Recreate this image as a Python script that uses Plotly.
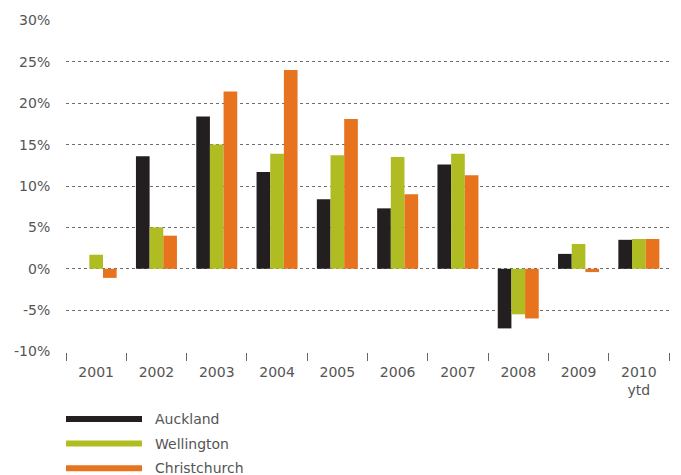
import plotly.graph_objects as go

# Annual house price change by city (%)
years = ["2001", "2002", "2003", "2004", "2005", "2006", "2007", "2008", "2009", "2010<br>ytd"]
auckland = [0.0, 13.6, 18.4, 11.7, 8.4, 7.3, 12.6, -7.2, 1.8, 3.5]
wellington = [1.7, 5.0, 15.0, 13.9, 13.7, 13.5, 13.9, -5.5, 3.0, 3.6]
christchurch = [-1.1, 4.0, 21.4, 24.0, 18.1, 9.0, 11.3, -6.0, -0.4, 3.6]

series_names = ["Auckland", "Wellington", "Christchurch"]
series_values = [auckland, wellington, christchurch]
series_colors = ["#231f20", "#afbd22", "#e8731e"]

y_ticks = [-10, -5, 0, 5, 10, 15, 20, 25, 30]
y_tick_labels = [f"{v}%" for v in y_ticks]

W, H = 681, 475
L, R, T, B = 66, 12, 15, 123
plot_w = W - L - R
plot_h = H - T - B

FONT = "DejaVu Sans, Liberation Sans, Arial, sans-serif"

fig = go.Figure()
for name, vals, col in zip(series_names, series_values, series_colors):
    fig.add_trace(go.Bar(
        x=years, y=vals, name=name, marker=dict(color=col, line=dict(width=0)),
        showlegend=False,
    ))

# Legend keys drawn as long bars below the plot
legend_y_px = [420, 445, 470]
for name, col, ypx in zip(series_names, series_colors, legend_y_px):
    yp = (H - B - ypx) / plot_h
    fig.add_shape(type="line", xref="paper", yref="paper",
                  x0=0, x1=(142 - L) / plot_w, y0=yp, y1=yp,
                  line=dict(color=col, width=6))
    fig.add_annotation(xref="paper", yref="paper", x=(153 - L) / plot_w, y=yp,
                       text=name, showarrow=False, xanchor="left", yanchor="middle",
                       font=dict(family=FONT, size=14, color="#555"))

fig.update_layout(
    width=W, height=H,
    margin=dict(l=L, r=R, t=T, b=B),
    paper_bgcolor="white", plot_bgcolor="white",
    barmode="group", bargap=0.32, bargroupgap=0,
    font=dict(family=FONT, size=14, color="#555"),
    yaxis=dict(
        range=[-10.05, 30.05], tickmode="array", tickvals=y_ticks, ticktext=y_tick_labels,
        showgrid=True, gridcolor="#6e6e6e", griddash="dot", gridwidth=1,
        zeroline=False, showline=False, ticks="outside", ticklen=12, tickcolor="rgba(0,0,0,0)",
    ),
    xaxis=dict(
        type="category", showgrid=False, showline=False, zeroline=False,
        ticks="outside", tickson="boundaries", ticklen=8, tickcolor="#666", tickwidth=1,
        ticklabelstandoff=10,
    ),
)

fig.write_html("out.html")
